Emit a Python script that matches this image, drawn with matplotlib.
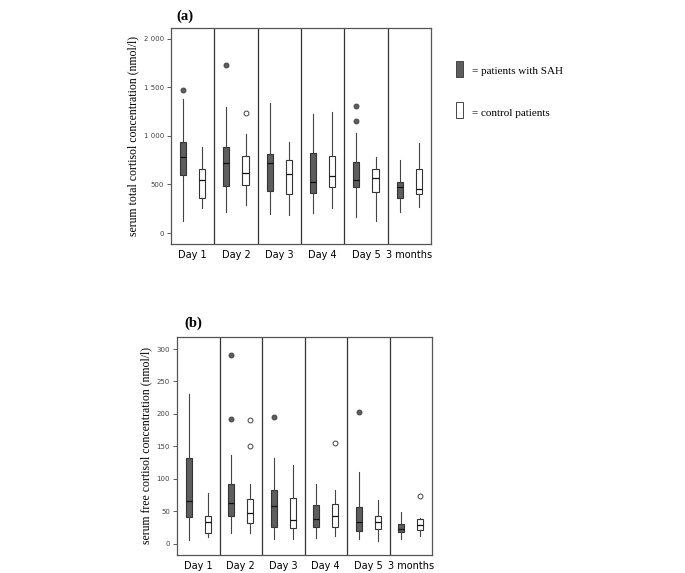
import matplotlib
matplotlib.use("Agg")
import matplotlib.pyplot as plt
from matplotlib.patches import Rectangle
from matplotlib.ticker import FuncFormatter

days = ["Day 1", "Day 2", "Day 3", "Day 4", "Day 5", "3 months"]

# (a) serum total cortisol, nmol/l
tot_sah_lo = [123, 216, 196, 206, 161, 213]
tot_sah_q1 = [597, 484, 429, 408, 470, 357]
tot_sah_med = [779, 720, 720, 528, 549, 473]
tot_sah_q3 = [940, 888, 813, 827, 727, 525]
tot_sah_hi = [1382, 1297, 1341, 1225, 1026, 755]
tot_sah_out = [[1471], [1729], [], [], [1314, 1156], []]

tot_ctl_lo = [257, 285, 182, 254, 120, 264]
tot_ctl_q1 = [360, 497, 401, 473, 425, 405]
tot_ctl_med = [545, 621, 604, 587, 569, 453]
tot_ctl_q3 = [659, 792, 748, 789, 659, 659]
tot_ctl_hi = [885, 1019, 936, 1249, 782, 926]
tot_ctl_out = [[], [1238], [], [], [], []]

# (b) serum free cortisol, nmol/l
free_sah_lo = [6.7, 16.4, 8.2, 9.2, 8, 8]
free_sah_q1 = [41, 43, 26, 26, 20.5, 18]
free_sah_med = [65.5, 62.5, 58.4, 38, 34, 23]
free_sah_q3 = [133, 92, 82.4, 59.4, 57, 30.8]
free_sah_hi = [231, 137, 133, 93, 110, 49]
free_sah_out = [[], [291, 192.5], [194.6], [], [202.7], []]

free_ctl_lo = [11, 16.4, 8.2, 11.8, 4.6, 12]
free_ctl_q1 = [17.4, 31.7, 24, 25.6, 22.6, 21]
free_ctl_med = [34, 47, 37, 42.5, 34, 29]
free_ctl_q3 = [42.5, 68.6, 70, 61.4, 43.5, 38]
free_ctl_hi = [78, 93, 122, 82.4, 67, 40]
free_ctl_out = [[], [190, 151.5], [], [155.6], [], [74]]

dark = "#5e5e5e"
edge = "#333333"


def stats(lo, q1, med, q3, hi, out):
    return [dict(whislo=lo[i], q1=q1[i], med=med[i], q3=q3[i], whishi=hi[i],
                 fliers=out[i]) for i in range(len(lo))]


def draw(ax, sah, ctl, ylim, ticks, fmt):
    n = len(days)
    for grp, off, fc in [(sah, 0.28, dark), (ctl, 0.72, "white")]:
        ax.bxp(grp, positions=[i + off for i in range(n)], widths=0.14,
               patch_artist=True, showcaps=False, manage_ticks=False,
               boxprops=dict(facecolor=fc, edgecolor=edge, linewidth=0.8),
               medianprops=dict(color="#111111", linewidth=0.9),
               whiskerprops=dict(color="#444444", linewidth=0.8),
               flierprops=dict(marker="o", markersize=3.5, markerfacecolor=fc,
                               markeredgecolor="#444444", markeredgewidth=0.7))
    for i in range(1, n):
        ax.axvline(i, color="#333333", linewidth=0.9)
    ax.set_xlim(0, n)
    ax.set_ylim(*ylim)
    ax.set_yticks(ticks)
    ax.yaxis.set_major_formatter(FuncFormatter(fmt))
    ax.set_xticks([i + 0.5 for i in range(n)])
    ax.set_xticklabels(days, fontsize=7)
    ax.tick_params(axis="x", length=0, pad=4)
    ax.tick_params(axis="y", labelsize=5, length=3, width=0.6, colors="#444444", pad=2)
    for s in ax.spines.values():
        s.set_color("#555555")
        s.set_linewidth(0.9)


fig = plt.figure(figsize=(6.85, 5.73), dpi=100)

ax1 = fig.add_axes([0.2496, 0.5742, 0.3796, 0.377])
draw(ax1, stats(tot_sah_lo, tot_sah_q1, tot_sah_med, tot_sah_q3, tot_sah_hi, tot_sah_out),
     stats(tot_ctl_lo, tot_ctl_q1, tot_ctl_med, tot_ctl_q3, tot_ctl_hi, tot_ctl_out),
     (-113, 2113), [0, 500, 1000, 1500, 2000],
     lambda v, p: "{:,}".format(int(v)).replace(",", " "))
ax1.set_ylabel("serum total cortisol concentration (nmol/l)", family="Liberation Serif",
               fontsize=8.5, labelpad=3)
fig.text(0.27, 0.972, "(a)", family="Liberation Serif", fontsize=10.5, weight="bold",
         ha="center", va="center")

ax2 = fig.add_axes([0.2584, 0.0314, 0.3723, 0.3805])
draw(ax2, stats(free_sah_lo, free_sah_q1, free_sah_med, free_sah_q3, free_sah_hi, free_sah_out),
     stats(free_ctl_lo, free_ctl_q1, free_ctl_med, free_ctl_q3, free_ctl_hi, free_ctl_out),
     (-17, 318.5), [0, 50, 100, 150, 200, 250, 300],
     lambda v, p: str(int(v)))
ax2.set_ylabel("serum free cortisol concentration (nmol/l)", family="Liberation Serif",
               fontsize=8.5, labelpad=3)
fig.text(0.282, 0.436, "(b)", family="Liberation Serif", fontsize=10.5, weight="bold",
         ha="center", va="center")

# legend drawn by hand
fig.patches.append(Rectangle((456 / 685, 1 - 77 / 573), 7 / 685, 16 / 573,
                             transform=fig.transFigure, facecolor=dark,
                             edgecolor="#444444", linewidth=0.7))
fig.patches.append(Rectangle((456 / 685, 1 - 118 / 573), 7 / 685, 16 / 573,
                             transform=fig.transFigure, facecolor="white",
                             edgecolor="#444444", linewidth=0.7))
fig.text(472 / 685, 1 - 72 / 573, "= patients with SAH", family="Liberation Serif",
         fontsize=8, va="center")
fig.text(472 / 685, 1 - 113 / 573, "= control patients", family="Liberation Serif",
         fontsize=8, va="center")

fig.savefig("out.png", dpi=100)
